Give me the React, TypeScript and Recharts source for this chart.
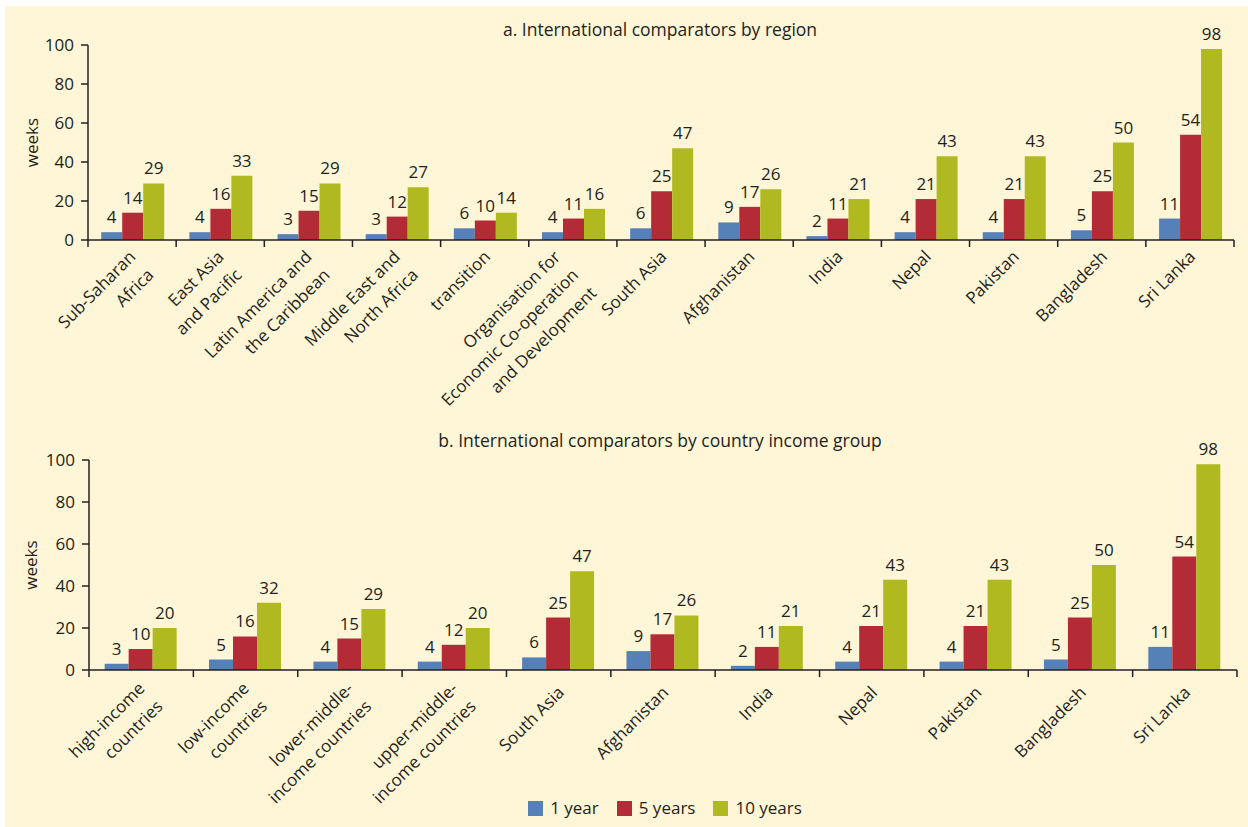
import React from 'react';
import { BarChart, Bar, XAxis, YAxis, LabelList, Legend } from 'recharts';

const categoriesA = [
  'Sub-Saharan\nAfrica',
  'East Asia\nand Pacific',
  'Latin America and\nthe Caribbean',
  'Middle East and\nNorth Africa',
  'transition',
  'Organisation for\nEconomic Co-operation\nand Development',
  'South Asia',
  'Afghanistan',
  'India',
  'Nepal',
  'Pakistan',
  'Bangladesh',
  'Sri Lanka',
];
const oneYearA = [4, 4, 3, 3, 6, 4, 6, 9, 2, 4, 4, 5, 11];
const fiveYearsA = [14, 16, 15, 12, 10, 11, 25, 17, 11, 21, 21, 25, 54];
const tenYearsA = [29, 33, 29, 27, 14, 16, 47, 26, 21, 43, 43, 50, 98];

const categoriesB = [
  'high-income\ncountries',
  'low-income\ncountries',
  'lower-middle-\nincome countries',
  'upper-middle-\nincome countries',
  'South Asia',
  'Afghanistan',
  'India',
  'Nepal',
  'Pakistan',
  'Bangladesh',
  'Sri Lanka',
];
const oneYearB = [3, 5, 4, 4, 6, 9, 2, 4, 4, 5, 11];
const fiveYearsB = [10, 16, 15, 12, 25, 17, 11, 21, 21, 25, 54];
const tenYearsB = [20, 32, 29, 20, 47, 26, 21, 43, 43, 50, 98];

const seriesNames = ['1 year', '5 years', '10 years'];
const yTicks = [0, 20, 40, 60, 80, 100];
const titleA = 'a. International comparators by region';
const titleB = 'b. International comparators by country income group';
const yLabel = 'weeks';

const COLORS = ['#5680b8', '#b32b35', '#b1b921'];
const TEXT = '#231f20';
const BG = '#fef6d6';
const FONT = '"Open Sans", sans-serif';
const FS = 17;

const dataA = categoriesA.map((c, i) => ({ name: c, y1: oneYearA[i], y5: fiveYearsA[i], y10: tenYearsA[i] }));
const dataB = categoriesB.map((c, i) => ({ name: c, y1: oneYearB[i], y5: fiveYearsB[i], y10: tenYearsB[i] }));

function makeTick(step: number, count: number, base: number, perLine: number) {
  return function CatTick(props: any) {
    const { x, y, payload, index } = props;
    const lines = String(payload.value).split('\n');
    const lh = 25.5;
    const n = lines.length;
    const dx = n === 2 ? 9 : 2;
    const ay = y + base + perLine * n;
    return (
      <g>
        <line x1={x - step / 2} y1={y} x2={x - step / 2} y2={y + 7} stroke={TEXT} strokeWidth={1.5} />
        {index === count - 1 && (
          <line x1={x + step / 2} y1={y} x2={x + step / 2} y2={y + 7} stroke={TEXT} strokeWidth={1.5} />
        )}
        <g transform={`translate(${x + dx},${ay}) rotate(-45)`}>
          {lines.map((l, i) => (
            <text
              key={i}
              x={0}
              y={(i - (n - 1) / 2) * lh}
              textAnchor="end"
              dominantBaseline="central"
              fill={TEXT}
              fontSize={FS}
              fontFamily={FONT}
            >
              {l}
            </text>
          ))}
        </g>
      </g>
    );
  };
}

const weeksLabel = (cx: number) => (props: any) => {
  const vb = props.viewBox || {};
  const cy = vb.y + vb.height / 2;
  return (
    <text
      x={cx}
      y={cy}
      transform={`rotate(-90, ${cx}, ${cy})`}
      textAnchor="middle"
      dominantBaseline="central"
      fill={TEXT}
      fontSize={FS}
      fontFamily={FONT}
    >
      {yLabel}
    </text>
  );
};

const LegendContent = (props: any) => {
  const payload = [...(props.payload || [])].sort(
    (a: any, b: any) => seriesNames.indexOf(a.value) - seriesNames.indexOf(b.value)
  );
  return (
    <div style={{ display: 'flex', justifyContent: 'center', alignItems: 'center', paddingLeft: 82, height: 20 }}>
      {payload.map((p: any, i: number) => (
        <div key={i} style={{ display: 'flex', alignItems: 'center', marginRight: i < payload.length - 1 ? 18 : 0 }}>
          <span style={{ display: 'inline-block', width: 15, height: 15, background: p.color, marginRight: 7 }} />
          <span style={{ fontSize: FS, color: TEXT, fontFamily: FONT, lineHeight: '20px' }}>{p.value}</span>
        </div>
      ))}
    </div>
  );
};

const labelStyle = { fill: TEXT, fontSize: FS, fontFamily: FONT };
const axisLine = { stroke: TEXT, strokeWidth: 1.5 };

function Bars() {
  return [
    <Bar key="a" dataKey="y1" name={seriesNames[0]} fill={COLORS[0]} isAnimationActive={false}>
      <LabelList dataKey="y1" position="top" offset={9} style={labelStyle} />
    </Bar>,
    <Bar key="b" dataKey="y5" name={seriesNames[1]} fill={COLORS[1]} isAnimationActive={false}>
      <LabelList dataKey="y5" position="top" offset={9} style={labelStyle} />
    </Bar>,
    <Bar key="c" dataKey="y10" name={seriesNames[2]} fill={COLORS[2]} isAnimationActive={false}>
      <LabelList dataKey="y10" position="top" offset={9} style={labelStyle} />
    </Bar>,
  ];
}

export default function App() {
  const stepA = (1234 - 88) / categoriesA.length;
  const stepB = (1237 - 89) / categoriesB.length;
  return (
    <div
      style={{
        position: 'fixed',
        left: 0,
        top: 0,
        width: 1248,
        height: 827,
        background: '#ffffff',
        fontFamily: FONT,
        color: TEXT,
      }}
    >
      <div style={{ position: 'absolute', left: 5, top: 6, width: 1243, height: 821, background: BG }} />
      <div
        style={{ position: 'absolute', left: 360, top: 19, width: 600, textAlign: 'center', fontSize: 17.5, lineHeight: '20px' }}
      >
        {titleA}
      </div>
      <div
        style={{ position: 'absolute', left: 360, top: 430, width: 600, textAlign: 'center', fontSize: 17.5, lineHeight: '20px' }}
      >
        {titleB}
      </div>
      <div style={{ position: 'absolute', left: 0, top: 0 }}>
        <BarChart
          width={1248}
          height={420}
          data={dataA}
          margin={{ top: 45, right: 14, bottom: 20, left: 28 }}
          barCategoryGap="15%"
          barGap={0}
        >
          <XAxis
            dataKey="name"
            interval={0}
            height={160}
            tickSize={0}
            tickMargin={0}
            tickLine={false}
            axisLine={axisLine}
            tick={makeTick(stepA, categoriesA.length, 4, 9.2)}
          />
          <YAxis
            width={60}
            domain={[0, 100]}
            ticks={yTicks}
            tickSize={7}
            tickMargin={7}
            axisLine={axisLine}
            tickLine={axisLine}
            tick={{ fill: TEXT, fontSize: FS, fontFamily: FONT }}
            label={weeksLabel(31)}
          />
          {Bars()}
        </BarChart>
      </div>
      <div style={{ position: 'absolute', left: 0, top: 420 }}>
        <BarChart
          width={1248}
          height={407}
          data={dataB}
          margin={{ top: 40, right: 11, bottom: 17, left: 29 }}
          barCategoryGap="15%"
          barGap={0}
        >
          <XAxis
            dataKey="name"
            interval={0}
            height={140}
            tickSize={0}
            tickMargin={0}
            tickLine={false}
            axisLine={axisLine}
            tick={makeTick(stepB, categoriesB.length, 14, 5)}
          />
          <YAxis
            width={60}
            domain={[0, 100]}
            ticks={yTicks}
            tickSize={7}
            tickMargin={7}
            axisLine={axisLine}
            tickLine={axisLine}
            tick={{ fill: TEXT, fontSize: FS, fontFamily: FONT }}
            label={weeksLabel(30)}
          />
          {Bars()}
          <Legend
            verticalAlign="middle"
            align="center"
            layout="horizontal"
            wrapperStyle={{ top: 378, left: 0, width: 1248 }}
            content={LegendContent}
          />
        </BarChart>
      </div>
    </div>
  );
}
